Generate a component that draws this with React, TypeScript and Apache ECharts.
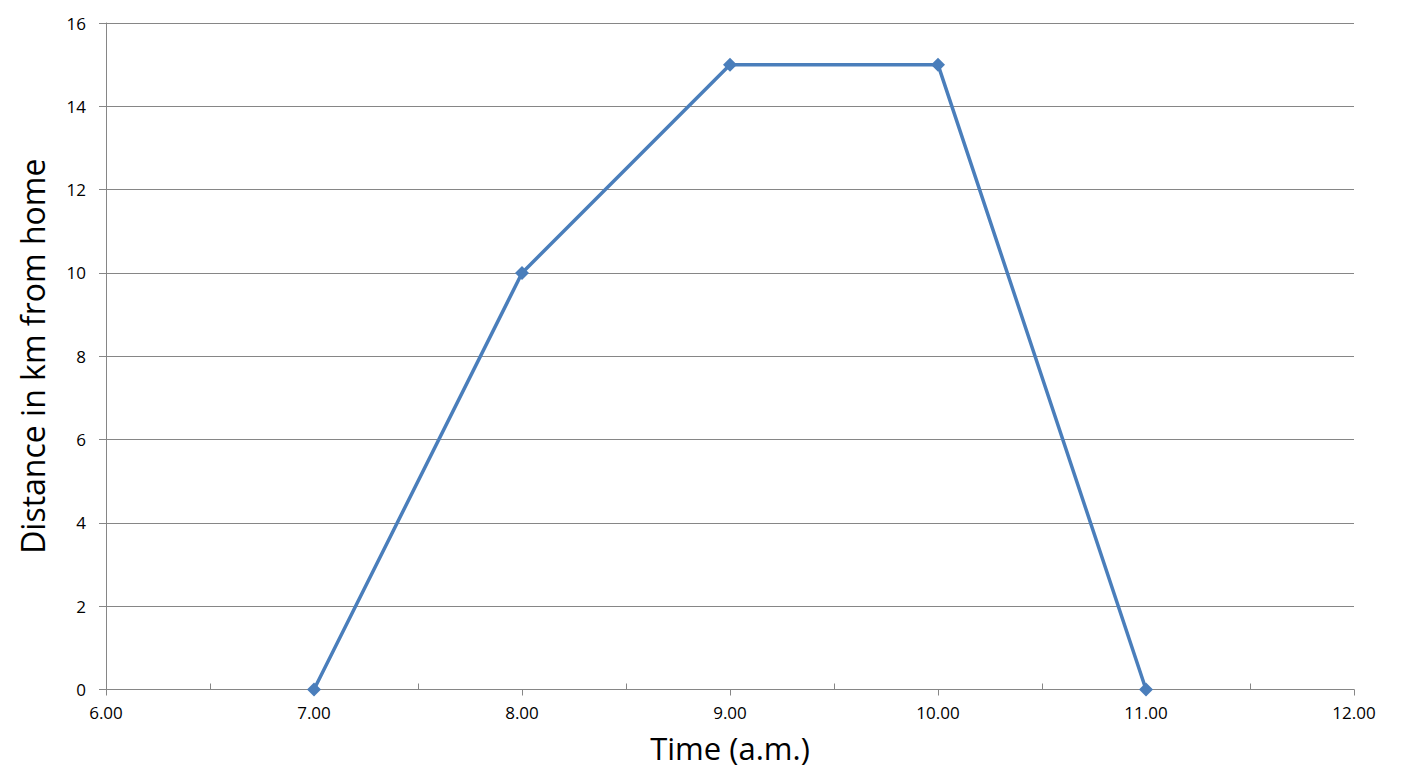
import React, { useEffect, useRef } from "react";
import * as echarts from "echarts";

const times = [7, 8, 9, 10, 11];
const distances = [0, 10, 15, 15, 0];
const halfHourTicks = [6.5, 7.5, 8.5, 9.5, 10.5, 11.5];
const xTitle = "Time (a.m.)";
const yTitle = "Distance in km from home";

export default function App() {
  const ref = useRef<HTMLDivElement>(null);
  useEffect(() => {
    const chart = echarts.init(ref.current!, null, { renderer: "svg" });
    const axisColor = "#868686";
    const font = "'Open Sans', 'Liberation Sans', sans-serif";
    chart.setOption({
      animation: false,
      backgroundColor: "#ffffff",
      grid: { left: 97, right: 40, top: 15, bottom: 78 },
      xAxis: [
        {
          type: "value",
          min: 6,
          max: 12,
          interval: 1,
          name: xTitle,
          nameLocation: "middle",
          nameGap: 43,
          nameTextStyle: { fontSize: 31, lineHeight: 30, color: "#000", fontFamily: font },
          axisLine: { show: true, lineStyle: { color: axisColor, width: 1 } },
          axisTick: { show: true, length: 6, lineStyle: { color: axisColor } },
          axisLabel: {
            color: "#000",
            fontSize: 17,
            lineHeight: 18,
            fontFamily: font,
            margin: 14,
            formatter: (v: number) => v.toFixed(2),
          },
          splitLine: { show: false },
        },
        {
          type: "value",
          min: 6,
          max: 12,
          position: "bottom",
          axisLine: { show: false },
          axisLabel: { show: false },
          splitLine: { show: false },
          axisTick: {
            show: true,
            inside: true,
            length: 6,
            customValues: halfHourTicks,
            lineStyle: { color: axisColor },
          },
        },
      ],
      yAxis: {
        type: "value",
        min: 0,
        max: 16,
        interval: 2,
        name: yTitle,
        nameLocation: "middle",
        nameGap: 58,
        nameTextStyle: { fontSize: 32, color: "#000", fontFamily: font },
        axisLine: { show: true, lineStyle: { color: axisColor, width: 1 } },
        axisTick: { show: true, length: 7, lineStyle: { color: axisColor } },
        axisLabel: { color: "#000", fontSize: 17, fontFamily: font, margin: 20 },
        splitLine: { show: true, lineStyle: { color: axisColor, width: 1 } },
      },
      series: [
        {
          type: "line",
          data: times.map((t, i) => [t, distances[i]]),
          symbol: "diamond",
          symbolSize: 14,
          lineStyle: { color: "#4A7EBB", width: 3.5 },
          itemStyle: { color: "#4A7EBB" },
        },
      ],
    });
    return () => chart.dispose();
  }, []);
  return <div ref={ref} style={{ width: 1386, height: 760 }} />;
}
